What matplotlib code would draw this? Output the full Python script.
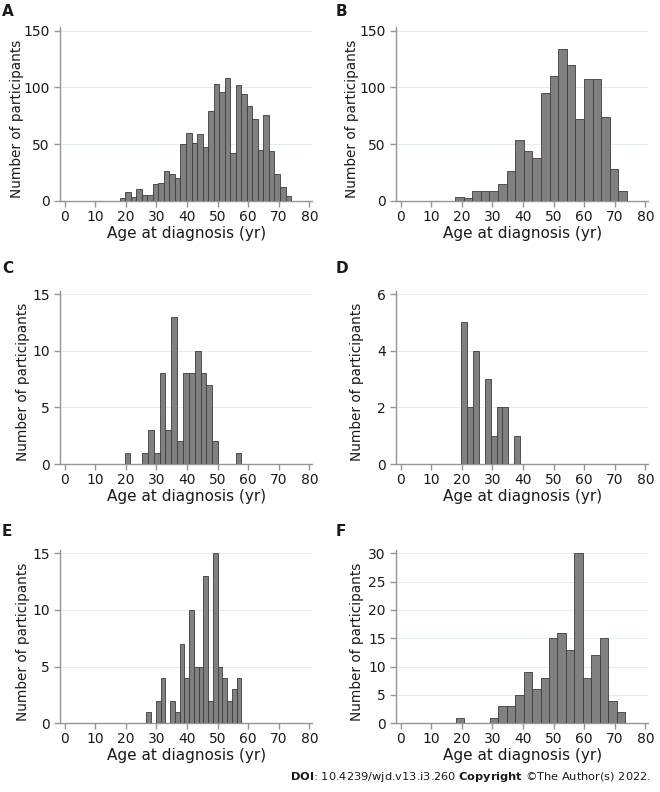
import numpy as np
import matplotlib
matplotlib.use("Agg")
import matplotlib.pyplot as plt

plt.rcParams['font.family'] = ['DejaVu Sans']
plt.rcParams['mathtext.fontset'] = 'dejavusans'

# histogram data: (first edge, last edge, counts per bin)
a_range = (18.0, 74.0)
a_counts = [2, 8, 3, 10, 5, 5, 15, 16, 26, 24, 20, 50, 60, 51, 59, 47, 79, 103, 96,
            108, 42, 102, 94, 84, 72, 45, 76, 44, 24, 12, 4]
b_range = (17.8, 74.0)
b_counts = [3, 2, 9, 9, 9, 15, 26, 54, 44, 38, 95, 110, 134, 120, 72, 107, 107, 74, 28, 9]
c_range = (19.6, 57.8)
c_counts = [1, 0, 0, 1, 3, 1, 8, 3, 13, 2, 8, 8, 10, 8, 7, 2, 0, 0, 0, 1]
d_range = (19.75, 39.1)
d_counts = [5, 2, 4, 0, 3, 1, 2, 2, 0, 1]
e_range = (26.7, 57.8)
e_counts = [1, 0, 2, 4, 0, 2, 1, 7, 4, 10, 5, 5, 13, 2, 15, 5, 4, 2, 3, 4]
f_range = (18.0, 73.45)
f_counts = [1, 0, 0, 0, 1, 3, 3, 5, 9, 6, 8, 15, 16, 13, 30, 8, 12, 15, 4, 2]

letters = ['A', 'B', 'C', 'D', 'E', 'F']
y_ticks = [[0, 50, 100, 150], [0, 50, 100, 150], [0, 5, 10, 15],
           [0, 2, 4, 6], [0, 5, 10, 15], [0, 5, 10, 15, 20, 25, 30]]
x_ticks = [0, 10, 20, 30, 40, 50, 60, 70, 80]
ranges = [a_range, b_range, c_range, d_range, e_range, f_range]
counts = [a_counts, b_counts, c_counts, d_counts, e_counts, f_counts]

W, H = 660, 792
fig = plt.figure(figsize=(W / 100, H / 100), dpi=100)

col_left = [60, 396]
row_zero = [200.7, 464.0, 723.3]
letter_top = [4, 261, 524]
ylab_off = [43, 44, 37.5, 39.5, 37.5, 39.5]   # px from y axis to label centre
plot_h = 170.0
ext = 3.5
xlo, xhi = -1.5, 81.0
ax_w = (xhi - xlo) * 3.06
ax_h = plot_h + ext

axis_grey = '#959595'
txt = '#1a1a1a'

for i in range(6):
    r, c = divmod(i, 2)
    left = col_left[c]
    bottom = row_zero[r]
    ax = fig.add_axes([left / W, 1 - bottom / H, ax_w / W, ax_h / H])

    n = len(counts[i])
    edges = np.linspace(ranges[i][0], ranges[i][1], n + 1)
    ax.hist(edges[:-1], bins=edges, weights=counts[i], color='#808080',
            edgecolor='#3c3c3c', linewidth=0.6, zorder=3)

    ymax = y_ticks[i][-1]
    ax.set_ylim(0, ymax * (1 + ext / plot_h))
    ax.set_xlim(xlo, xhi)
    ax.set_xticks(x_ticks)
    ax.set_yticks(y_ticks[i])
    for t in y_ticks[i][1:]:
        ax.axhline(t, color='#e4eef0', linewidth=0.8, zorder=1)

    for s in ['top', 'right']:
        ax.spines[s].set_visible(False)
    for s in ['left', 'bottom']:
        ax.spines[s].set_color(axis_grey)
        ax.spines[s].set_linewidth(1.0)
    ax.tick_params(axis='both', colors=axis_grey, labelcolor=txt,
                   labelsize=10, length=4, width=1.0)
    ax.tick_params(axis='x', pad=2.5)
    ax.tick_params(axis='y', pad=3.5)

    ax.set_xlabel('Age at diagnosis (yr)', fontsize=11, color=txt, va='top')
    ax.xaxis.set_label_coords(0.5, -25 / ax_h)
    ax.set_ylabel('Number of participants', fontsize=9.8, color=txt, va='center')
    ax.yaxis.set_label_coords(-ylab_off[i] / ax_w, (ax_h / 2 - 5) / ax_h)

    fig.text((2 if c == 0 else 336) / W, 1 - letter_top[r] / H, letters[i],
             fontsize=11, fontweight='bold', color=txt, va='top', ha='left')

fig.text(651 / W, 1 - 777 / H,
         r'$\bf{DOI}$: 10.4239/wjd.v13.i3.260 $\bf{Copyright}$ ©The Author(s) 2022.',
         fontsize=8.2, ha='right', va='center', color=txt)

fig.savefig('out.png', dpi=100)
